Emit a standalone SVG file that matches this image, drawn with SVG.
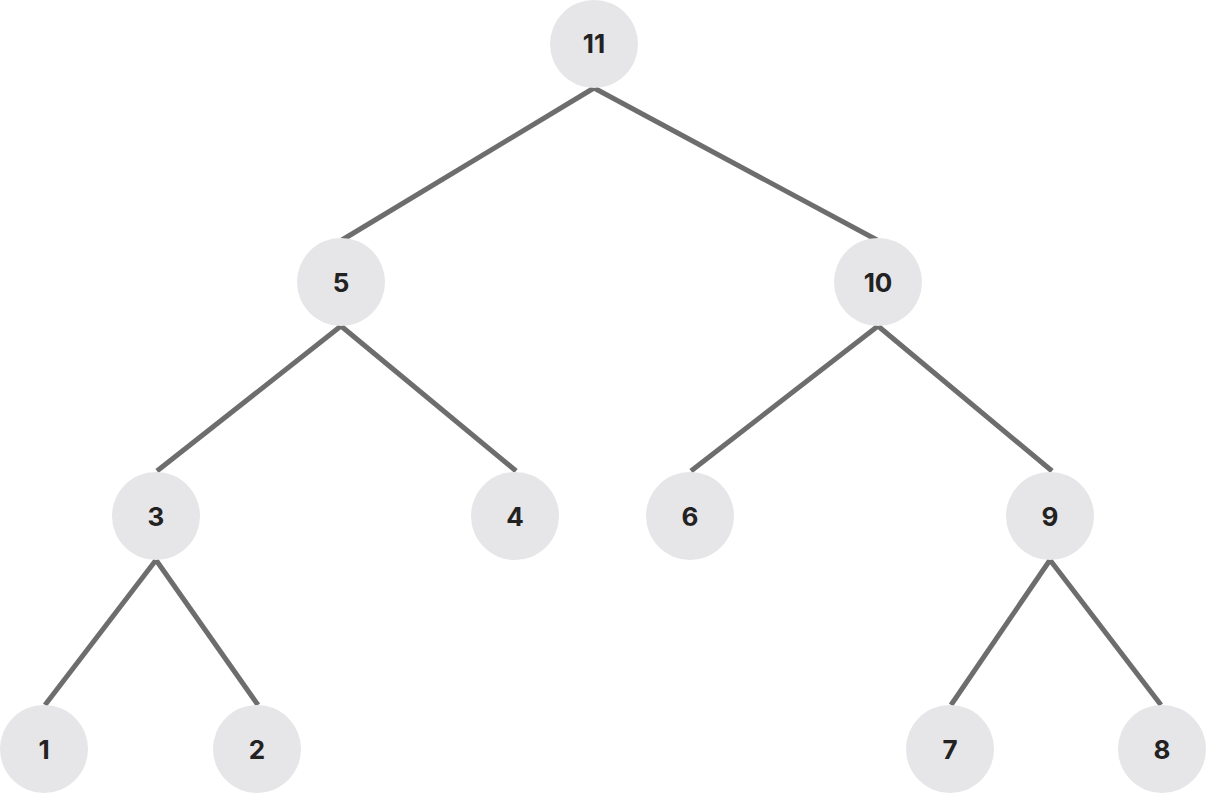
<svg xmlns="http://www.w3.org/2000/svg" width="1206" height="794" viewBox="0 0 1206 794">
<style>
.e{stroke:#6d6d6d;stroke-width:5;fill:none}
.n circle{fill:#e6e5e7}
.n text{font-family:Inter,"Open Sans","Liberation Sans",sans-serif;font-weight:700;font-size:26px;fill:#222;text-anchor:middle;dominant-baseline:central}
</style>
<rect width="1206" height="794" fill="#fff"/>
<g id="edges">
<line class="e" x1="594" y1="88" x2="342" y2="240"/>
<line class="e" x1="594" y1="88" x2="877" y2="240"/>
<line class="e" x1="341" y1="326" x2="157" y2="471"/>
<line class="e" x1="341" y1="326" x2="516" y2="471"/>
<line class="e" x1="878" y1="326" x2="691" y2="471"/>
<line class="e" x1="878" y1="326" x2="1052" y2="471"/>
<line class="e" x1="156" y1="560" x2="45" y2="705"/>
<line class="e" x1="156" y1="560" x2="258" y2="705"/>
<line class="e" x1="1050" y1="560" x2="951" y2="705"/>
<line class="e" x1="1050" y1="560" x2="1161" y2="705"/>
</g>
<g id="n11" class="n"><circle cx="594" cy="44" r="44"/><text x="594" y="43">11</text></g>
<g id="n5" class="n"><circle cx="341" cy="282" r="44"/><text x="341" y="282">5</text></g>
<g id="n10" class="n"><circle cx="878" cy="282" r="44"/><text x="878" y="282">10</text></g>
<g id="n3" class="n"><circle cx="156" cy="516" r="44"/><text x="156" y="516">3</text></g>
<g id="n4" class="n"><circle cx="515" cy="516" r="44"/><text x="515" y="516">4</text></g>
<g id="n6" class="n"><circle cx="690" cy="516" r="44"/><text x="690" y="516">6</text></g>
<g id="n9" class="n"><circle cx="1050" cy="516" r="44"/><text x="1050" y="516">9</text></g>
<g id="n1" class="n"><circle cx="44" cy="749" r="44"/><text x="44" y="749">1</text></g>
<g id="n2" class="n"><circle cx="257" cy="749" r="44"/><text x="257" y="749">2</text></g>
<g id="n7" class="n"><circle cx="950" cy="749" r="44"/><text x="950" y="749">7</text></g>
<g id="n8" class="n"><circle cx="1162" cy="749" r="44"/><text x="1162" y="749">8</text></g>
</svg>
